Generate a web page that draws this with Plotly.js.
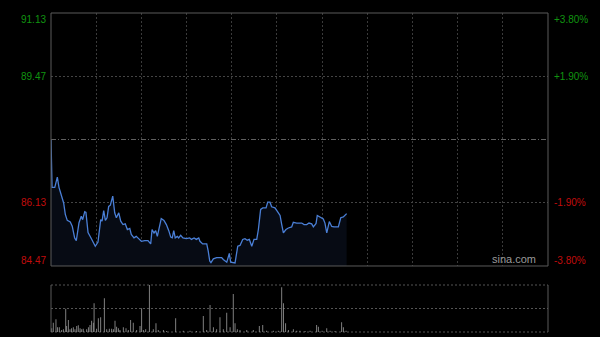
<!DOCTYPE html>
<html>
<head>
<meta charset="utf-8">
<script src="https://cdn.plot.ly/plotly-3.0.1.min.js"></script>
<style>
html,body{margin:0;padding:0;background:#000;}
#chart{width:600px;height:337px;}
</style>
</head>
<body>
<div id="chart"></div>
<script>
// Minutes since open (session = 330 minutes) and price
const priceTimes = [0,0.7,2.5,4.2,5.3,6.8,8.4,9.5,10.8,12.8,14.1,15.7,16.8,18.6,20.1,21,22.4,23.2,24.6,26.4,27.9,29.4,31.2,33,33.9,35,36.1,37.2,38.3,39.4,41,42.3,43.4,45,46.3,47.8,49.3,50.7,52.3,53.3,55.1,56.6,58.2,60,62.2,64.4,66.2,67.1,68.4,69.5,70.6,72.2,73.2,75,76.6,78.2,79.5,80.5,81.5,82.5,83.9,84.8,86.1,87.6,89.8,92.1,93.2,95,96.5,98.1,98.9,100.7,103.4,104.4,105.4,106.2,107.8,110,113.3,114.4,116.7,118.4,119.3,122.2,124,125.5,127.3,128.8,130.3,131.7,133.3,134.8,136.6,137.7,139.2,140.6,142.8,143.9,145.4,146.5,148.7,150.3,152.1,153.2,154.3,156,157.6,159.8,160.9,163.2,166.5,168,169.8,171.3,173.1,174.2,176,176.8,178.6,180.8,181.9,183.1,184.8,186.4,187.9,190.8,192.4,194.1,196.3];
const prices = [87.80,86.54,86.54,86.81,86.54,86.31,86.13,85.83,85.67,85.63,85.52,85.21,85.14,85.61,85.78,85.69,85.90,85.88,85.35,85.22,85.08,84.99,85.10,85.69,85.65,85.93,85.67,85.74,86.04,86.07,86.31,85.87,85.74,85.87,85.65,85.56,85.58,85.43,85.46,85.30,85.21,85.25,85.19,85.12,85.14,85.14,85.05,85.43,85.34,85.40,85.25,85.56,85.72,85.67,85.56,85.40,85.23,85.21,85.40,85.21,85.25,85.21,85.28,85.21,85.19,85.21,85.17,85.21,85.17,85.21,85.12,85.05,85.05,84.86,84.60,84.56,84.66,84.69,84.69,84.64,84.57,84.80,84.57,84.55,84.99,85.01,85.17,85.19,85.15,85.17,84.99,85.17,85.17,85.43,85.96,86.00,86.00,86.15,86.15,86.03,86.00,85.91,85.80,85.56,85.34,85.43,85.47,85.50,85.62,85.60,85.60,85.56,85.56,85.60,85.58,85.50,85.59,85.80,85.76,85.71,85.60,85.34,85.64,85.51,85.50,85.50,85.74,85.76,85.85];

// Volume bars (relative units)
const volTimes = [0.5,1.5,3.3,4.4,5.5,7.1,8.2,9.8,10.4,11.5,12.6,13.7,14.8,15.9,17.1,18.1,19.3,20.4,21.4,23.7,24.8,25.9,27,28.1,28.6,30.3,31.4,33,35.4,37,38.7,40.3,41.4,42.5,43.6,44.7,45.8,48,49.8,51.3,52.9,54.6,56.9,59.1,60.2,61.3,62.9,65.3,67.9,69.7,71.2,74.6,76.8,82.8,87.8,92.3,96.7,101.1,103.4,105.6,107.8,110,112.2,114.4,116.7,118.9,121,122.2,123.7,125.5,130,134.3,138.3,140.6,143.2,147.6,150.9,153.2,154.3,155.8,157.6,160.9,163.2,165.3,168.7,172,176.4,177.5,180,183.1,185.3,188.6,193,194.1,195.9];
const volumes = [3.7,9.3,12.7,4.7,4.7,2,2.7,23.3,6,12,2.7,3.7,4.7,2.7,6,6.7,3.7,2.7,3.3,2.7,4.7,7,11.3,9.3,28.7,3.3,13.7,14.7,33.7,2.7,3.3,3.3,2.7,11.3,5.3,3.7,2,4.7,3.7,2,12,9.3,2,6,23.7,2,2.7,47,2.7,8.7,2,2,1,13.7,1.3,1.3,1,16,2,27,4.7,2.7,14.7,2.7,19.3,4.7,38,8.7,2.7,2,2,2,6,7,1.3,1.3,1.3,44.7,28.7,8.7,2,2.7,1.3,1.3,1,1.3,7,5.3,1.3,3.7,1.3,1,9.7,4.7,1.3];

const prevClose = 87.80;
const priceTicks = [91.13, 89.47, 86.13, 84.47];
const pctTicks = ['+3.80%', '+1.90%', '-1.90%', '-3.80%'];
const timeGrid = [30,60,90,120,150,180,210,240,270,300];

const up = '#109410', down = '#c00c0c';
const font = {family: 'Liberation Sans, Arial, sans-serif', size: 10};

const annotations = [];
priceTicks.forEach((v, i) => {
  const col = v > prevClose ? up : down;
  const ys = i === 0 ? -6 : (i === priceTicks.length - 1 ? 6 : 0);
  annotations.push({xref: 'paper', yref: 'y', x: 0, y: v, xanchor: 'right', yanchor: 'middle',
    xshift: -3, yshift: ys, text: v.toFixed(2), showarrow: false, font: Object.assign({}, font, {color: col})});
  annotations.push({xref: 'paper', yref: 'y', x: 1, y: v, xanchor: 'left', yanchor: 'middle',
    xshift: 4, yshift: ys, text: pctTicks[i], showarrow: false, font: Object.assign({}, font, {color: col})});
});
annotations.push({xref: 'paper', yref: 'y', x: 1, y: 84.47, xanchor: 'right', yanchor: 'bottom',
  xshift: -10, yshift: -1, text: 'sina.com', showarrow: false,
  font: {family: 'Liberation Sans, Arial, sans-serif', size: 11, color: '#9a9a9a'}});

const traces = [
  {x: priceTimes, y: prices, type: 'scatter', mode: 'lines', xaxis: 'x', yaxis: 'y',
   line: {color: '#4a7fd6', width: 1.3}, fill: 'tozeroy', fillcolor: '#070b14', hoverinfo: 'skip'},
  {x: volTimes, y: volumes, type: 'bar', xaxis: 'x2', yaxis: 'y2', width: 0.55,
   marker: {color: '#9a9a9a', line: {width: 0}}, hoverinfo: 'skip'}
];

const gridC = '#3a3a3a';
const dots = '2px,2px';
const layout = {
  width: 600, height: 337,
  margin: {l: 51, r: 52, t: 13, b: 5},
  paper_bgcolor: '#000', plot_bgcolor: '#000',
  showlegend: false,
  xaxis: {domain: [0, 1], range: [0, 330], anchor: 'y', tickvals: timeGrid, showticklabels: false,
          showgrid: true, gridcolor: gridC, griddash: dots, gridwidth: 1, zeroline: false, ticks: ''},
  xaxis2: {domain: [0, 1], range: [0, 330], anchor: 'y2', showticklabels: false, showgrid: false,
           zeroline: false, ticks: ''},
  yaxis: {domain: [0.2069, 1], range: [84.47, 91.13], tickvals: priceTicks, showticklabels: false,
          showgrid: true, gridcolor: '#444', griddash: dots, zeroline: false, ticks: ''},
  yaxis2: {domain: [0, 0.1473], range: [0, 47], tickvals: [23.5], showticklabels: false,
           showgrid: true, gridcolor: '#555', griddash: dots, zeroline: false, ticks: ''},
  shapes: [
    {type: 'line', xref: 'paper', yref: 'y', x0: 0, x1: 1, y0: prevClose, y1: prevClose,
     line: {color: '#606060', width: 1, dash: '5px,2px,1px,2px'}},
    {type: 'rect', xref: 'paper', yref: 'y domain', x0: 0, x1: 1, y0: 0, y1: 1,
     line: {color: '#5a5a5a', width: 1}},
    {type: 'line', xref: 'paper', yref: 'y2 domain', x0: 0, x1: 1, y0: 1, y1: 1,
     line: {color: '#555', width: 1, dash: dots}},
    {type: 'line', xref: 'paper', yref: 'y2 domain', x0: 0, x1: 1, y0: 0, y1: 0,
     line: {color: '#555', width: 1, dash: dots}, layer: 'below'},
    {type: 'line', xref: 'paper', yref: 'y2 domain', x0: 0, x1: 0, y0: 0, y1: 1,
     line: {color: '#5a5a5a', width: 1}},
    {type: 'line', xref: 'paper', yref: 'y2 domain', x0: 1, x1: 1, y0: 0, y1: 1,
     line: {color: '#5a5a5a', width: 1}}
  ],
  annotations: annotations
};

Plotly.newPlot('chart', traces, layout, {staticPlot: true, displayModeBar: false});
</script>
</body>
</html>
